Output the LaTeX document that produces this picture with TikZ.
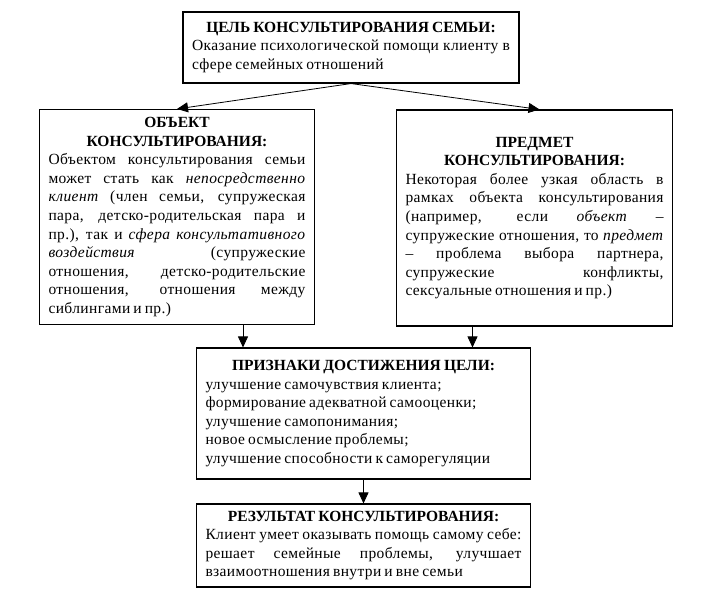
\documentclass[tikz,border=0pt]{standalone}
\usepackage{fontspec}
\setmainfont{Liberation Serif}
\newfontfamily\bodyfont{Liberation Serif}[LetterSpace=2.5]
\newcommand\boxfont{\fontsize{15.5}{18.6}\bodyfont
  \spaceskip=0.2em plus 0.5em minus 0.05em\relax}
\usetikzlibrary{arrows.meta, calc}

\begin{document}
\begin{tikzpicture}[x=1pt, y=-1pt,
            box/.style={rectangle, draw, line width=1.1pt, inner xsep=9pt, inner ysep=0pt,
                        align=justify, font=\boxfont},
            arr/.style={-{Triangle[length=11pt, width=10pt]}, line width=0.8pt}
          ]
          \useasboundingbox (0,0) rectangle (704,598);
          \node[box, text width=318pt, minimum height=71pt] (goal) at (351,47.5)
            {{\centering\rmfamily\bfseries ЦЕЛЬ КОНСУЛЬТИРОВАНИЯ СЕМЬИ:\par}
             Оказание психологической помощи клиенту в\linebreak
             сфере семейных отношений};
          \node[box, text width=257pt, minimum height=215pt] (obj) at (177,217)
            {{\centering\rmfamily\bfseries ОБЪЕКТ\par КОНСУЛЬТИРОВАНИЯ:\par}
             Объектом консультирования семьи\linebreak
             может стать как \textit{непосредственно}\linebreak
             \textit{клиент} (член семьи, супружеская\linebreak
             пара, детско-родительская пара и\linebreak
             пр.), так и \textit{сфера консультативного}\linebreak
             \textit{воздействия} (супружеские\linebreak
             отношения, детско-родительские\linebreak
             отношения, отношения между\linebreak
             сиблингами и пр.)};
          \node[box, text width=258pt, minimum height=216pt] (subj) at (534.5,218)
            {{\centering\rmfamily\bfseries ПРЕДМЕТ\par КОНСУЛЬТИРОВАНИЯ:\par}
             Некоторая более узкая область в\linebreak
             рамках объекта консультирования\linebreak
             (например, если \textit{объект} –\linebreak
             супружеские отношения, то \textit{предмет}\linebreak
             – проблема выбора партнера,\linebreak
             супружеские конфликты,\linebreak
             сексуальные отношения и пр.)};
          \node[box, text width=316pt, minimum height=131pt] (signs) at (363.5,413.5)
            {{\centering\rmfamily\bfseries ПРИЗНАКИ ДОСТИЖЕНИЯ ЦЕЛИ:\par}
             улучшение самочувствия клиента;\par
             формирование адекватной самооценки;\par
             улучшение самопонимания;\par
             новое осмысление проблемы;\par
             улучшение способности к саморегуляции};
          \node[box, text width=316pt, minimum height=83pt] (result) at (363.5,545.5)
            {{\centering\rmfamily\bfseries РЕЗУЛЬТАТ КОНСУЛЬТИРОВАНИЯ:\par}
             Клиент умеет оказывать помощь самому себе:\linebreak
             решает семейные проблемы, улучшает\linebreak
             взаимоотношения внутри и вне семьи};

          \draw[arr] (goal.south) -- (obj.north);
          \draw[arr] (goal.south) -- ([xshift=5pt]subj.north);
          \draw[arr] ([xshift=66pt]obj.south) -- ([xshift=66pt]obj.south |- signs.north);
          \draw[arr] ([xshift=-62pt]subj.south) -- ([xshift=-62pt]subj.south |- signs.north);
          \draw[arr] (signs.south) -- (result.north);
        \end{tikzpicture}
\end{document}
